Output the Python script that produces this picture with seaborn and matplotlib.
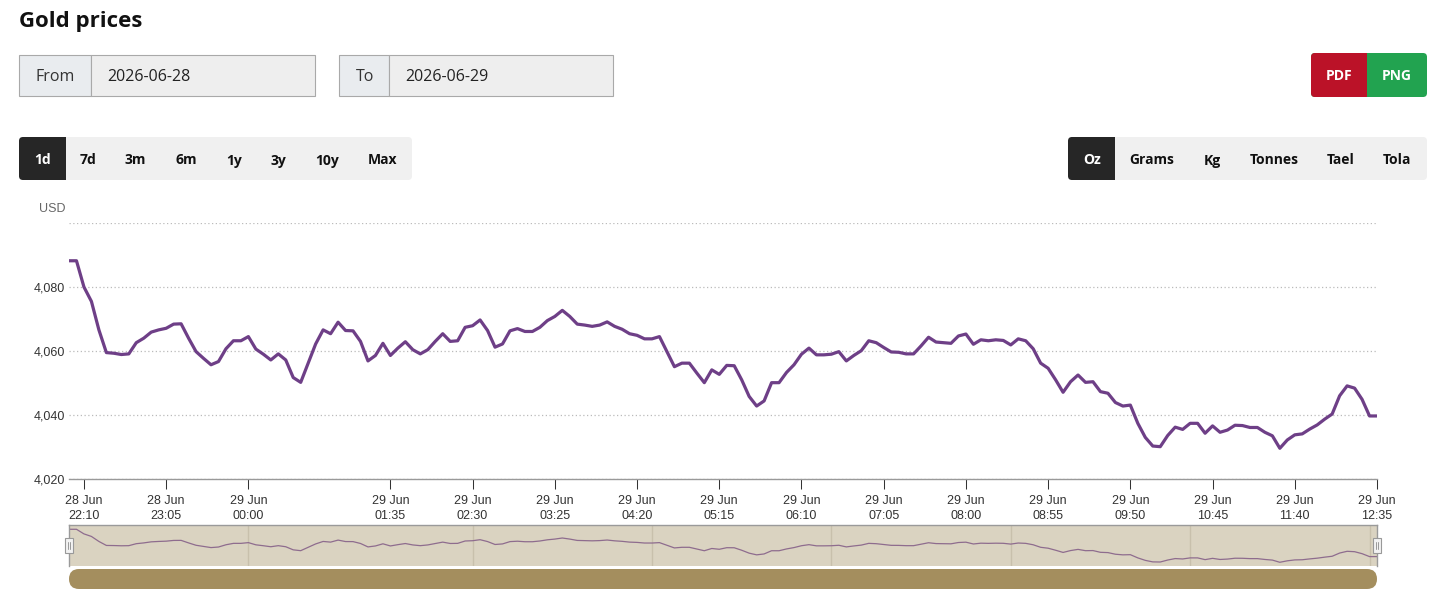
import numpy as np
import pandas as pd
import matplotlib
matplotlib.use("Agg")
import matplotlib.pyplot as plt
import seaborn as sns
from matplotlib.patches import FancyBboxPatch, Rectangle

# ---------------- data ----------------
start_time = "2026-06-28 22:00"
prices = [
    4088.2, 4088.2, 4080.0, 4075.5, 4066.6, 4059.5, 4059.3, 4058.9, 4059.1, 4062.6,
    4064.0, 4065.9, 4066.6, 4067.1, 4068.4, 4068.5, 4064.0, 4059.8, 4057.7, 4055.7,
    4056.7, 4060.7, 4063.2, 4063.2, 4064.5, 4060.6, 4059.0, 4057.2, 4059.1, 4057.2,
    4051.7, 4050.2, 4056.2, 4062.2, 4066.6, 4065.4, 4069.0, 4066.4, 4066.3, 4063.0,
    4056.9, 4058.6, 4062.4, 4058.6, 4060.9, 4062.9, 4060.4, 4059.1, 4060.4, 4063.0,
    4065.4, 4063.0, 4063.2, 4067.4, 4067.9, 4069.7, 4066.4, 4061.2, 4062.2, 4066.3,
    4067.0, 4066.1, 4066.1, 4067.4, 4069.5, 4070.8, 4072.7, 4070.8, 4068.4, 4068.1,
    4067.7, 4068.1, 4069.1, 4067.7, 4066.8, 4065.4, 4064.9, 4063.8, 4063.8, 4064.5,
    4059.8, 4055.1, 4056.2, 4056.2, 4053.1, 4050.1, 4054.1, 4052.7, 4055.5, 4055.4,
    4051.0, 4045.8, 4042.8, 4044.4, 4050.1, 4050.1, 4053.3, 4055.7, 4059.0, 4060.9,
    4058.8, 4058.8, 4059.0, 4059.8, 4056.9, 4058.6, 4060.1, 4063.2, 4062.6, 4061.1,
    4059.7, 4059.6, 4059.1, 4059.1, 4061.6, 4064.3, 4062.8, 4062.6, 4062.4, 4064.7,
    4065.3, 4062.1, 4063.5, 4063.2, 4063.5, 4063.3, 4061.9, 4063.8, 4063.2, 4060.7,
    4056.2, 4054.6, 4051.0, 4047.1, 4050.4, 4052.5, 4050.2, 4050.4, 4047.3, 4046.8,
    4043.9, 4042.8, 4043.1, 4037.4, 4033.0, 4030.3, 4030.1, 4033.6, 4036.2, 4035.5,
    4037.4, 4037.4, 4034.3, 4036.6, 4034.6, 4035.3, 4036.8, 4036.7, 4036.1, 4036.1,
    4034.6, 4033.5, 4029.6, 4032.2, 4033.8, 4034.1, 4035.6, 4036.9, 4038.7, 4040.3,
    4046.0, 4049.1, 4048.4, 4044.9, 4039.7, 4039.7,
]
tick_times = [
    "2026-06-28 22:10", "2026-06-28 23:05", "2026-06-29 00:00", "2026-06-29 01:35",
    "2026-06-29 02:30", "2026-06-29 03:25", "2026-06-29 04:20", "2026-06-29 05:15",
    "2026-06-29 06:10", "2026-06-29 07:05", "2026-06-29 08:00", "2026-06-29 08:55",
    "2026-06-29 09:50", "2026-06-29 10:45", "2026-06-29 11:40", "2026-06-29 12:35",
]
nav_grid_times = [
    "2026-06-29 00:00", "2026-06-29 02:30", "2026-06-29 04:30", "2026-06-29 06:30",
    "2026-06-29 08:30", "2026-06-29 10:30", "2026-06-29 12:30",
]
y_ticks = [4020, 4040, 4060, 4080, 4100]
y_tick_labels = ["4,020", "4,040", "4,060", "4,080", ""]
period_buttons = ["1d", "7d", "3m", "6m", "1y", "3y", "10y", "Max"]
period_centers = [42.5, 88, 135.5, 186, 233.7, 278.7, 327.4, 382.7]
unit_buttons = ["Oz", "Grams", "Kg", "Tonnes", "Tael", "Tola"]
unit_centers = [1091.7, 1151.5, 1212, 1274, 1340.8, 1397.3]
date_from = "2026-06-28"
date_to = "2026-06-29"

times = pd.date_range(start_time, periods=len(prices), freq="5min")
df = pd.DataFrame({"time": times, "price": prices})
ticks = pd.to_datetime(tick_times)
tick_labels = [f"{t.day} {t.strftime('%b')}\n{t.strftime('%H:%M')}" for t in ticks]
nav_grid = pd.to_datetime(nav_grid_times)

# ---------------- style ----------------
sns.set_theme(style="white")
plt.rcParams['font.family'] = ['Liberation Sans', 'DejaVu Sans']
UI_FONT = ['Open Sans', 'DejaVu Sans']
LINE = "#6E3F87"

W, H = 1440, 604
fig = plt.figure(figsize=(W / 100, H / 100), dpi=100)
fig.patch.set_facecolor("white")


def fx(px):
    return px / W


def fy(py):
    return 1 - py / H


# ---------------- main chart ----------------
ax = fig.add_axes([fx(69), fy(479), fx(1377) - fx(69), fy(223) - fy(479)], zorder=2)
ax.set_facecolor("none")
sns.lineplot(data=df, x="time", y="price", ax=ax, color=LINE, linewidth=2.3)
ax.set_xlim(times[0], times[-1])
ax.set_ylim(4020, 4100)
ax.set_yticks(y_ticks)
ax.set_yticklabels(y_tick_labels)
ax.set_xticks(ticks)
ax.set_xticklabels(tick_labels)
ax.set_xlabel("")
ax.set_ylabel("")
ax.grid(axis="y", color="#bbbbbb", linestyle=(0, (1, 2)), linewidth=0.9)
ax.grid(axis="x", visible=False)
for s in ["top", "right", "left"]:
    ax.spines[s].set_visible(False)
ax.spines["bottom"].set_color("#999999")
ax.spines["bottom"].set_linewidth(1.0)
ax.tick_params(axis="y", length=0, pad=3, labelsize=9, labelcolor="#333333")
ax.tick_params(axis="x", direction="out", length=7.2, width=0.75, color="#333333",
               pad=4.3, labelsize=9, labelcolor="#333333", bottom=True)
for lbl in ax.get_xticklabels():
    lbl.set_horizontalalignment("center")
    lbl.set_multialignment("center")
    lbl.set_linespacing(1.33)

# ---------------- navigator ----------------
nav = fig.add_axes([fx(69), fy(566), fx(1377) - fx(69), fy(525) - fy(566)], zorder=2)
nav.set_facecolor("#DAD3C1")
for t in nav_grid:
    nav.axvline(t, color="#C8C0AC", linewidth=1.0, zorder=0)
sns.lineplot(data=df, x="time", y="price", ax=nav, color="#8E6C8E", linewidth=0.9)
nav.set_xlim(times[0], times[-1])
nav.set_ylim(min(prices) - 6.6, max(prices) + 7.6)
nav.set_xticks([])
nav.set_yticks([])
nav.set_xlabel("")
nav.set_ylabel("")
nav.grid(False)
for s in ["top", "left", "right"]:
    nav.spines[s].set_color("#9a9a9a")
    nav.spines[s].set_linewidth(1.0)
nav.spines["bottom"].set_visible(False)

# ---------------- UI canvas ----------------
cv = fig.add_axes([0, 0, 1, 1], zorder=5)
cv.set_facecolor("none")
cv.set_xlim(0, W)
cv.set_ylim(H, 0)
cv.axis("off")


def rbox(x0, y0, x1, y1, color, r=4, ec="none", lw=0, z=1):
    p = FancyBboxPatch((x0 + r, y0 + r), (x1 - x0 - 2 * r), (y1 - y0 - 2 * r),
                       boxstyle=f"round,pad={r}", facecolor=color, edgecolor=ec,
                       linewidth=lw, zorder=z)
    cv.add_patch(p)


def rect(x0, y0, x1, y1, color, ec="none", lw=0, z=1):
    cv.add_patch(Rectangle((x0, y0), x1 - x0, y1 - y0, facecolor=color,
                           edgecolor=ec, linewidth=lw, zorder=z))


# title
cv.text(19, 27.5, "Gold prices", fontsize=16, fontweight="bold", color="#111111",
        family=UI_FONT, va="baseline", ha="left")

# date inputs
def date_input(x0, xd, x1, label, value):
    rect(x0, 54.5, xd, 95.5, "#E9ECEF", ec="#A9A9A9", lw=0.8)
    rect(xd, 54.5, x1, 95.5, "#EEEEEE", ec="#A9A9A9", lw=0.8)
    cv.text(x0 + 16.5, 81.2, label, fontsize=11.5, color="#333333", family=UI_FONT,
            va="baseline", ha="left", zorder=3)
    cv.text(xd + 16, 81.2, value, fontsize=11.5, color="#222222", family=UI_FONT,
            va="baseline", ha="left", zorder=3)


date_input(19, 91.4, 314.5, "From", date_from)
date_input(339, 389.3, 612.5, "To", date_to)

# PDF / PNG
rbox(1311, 53, 1427, 97, "#22A350", r=4)
rbox(1311, 53, 1367, 97, "#BB1228", r=4, z=2)
rect(1360, 53, 1367, 97, "#BB1228", z=2)
cv.text(1339.2, 80, "PDF", fontsize=10, fontweight="bold", color="white",
        family=UI_FONT, va="baseline", ha="center", zorder=3)
cv.text(1396.5, 80, "PNG", fontsize=10, fontweight="bold", color="white",
        family=UI_FONT, va="baseline", ha="center", zorder=3)

# period buttons
rbox(19, 137, 412, 180, "#F0F0F0", r=4)
rbox(19, 137, 66, 180, "#262626", r=4, z=2)
rect(60, 137, 66, 180, "#262626", z=2)
for i, (lab, cx) in enumerate(zip(period_buttons, period_centers)):
    cv.text(cx, 164.5, lab, fontsize=10, fontweight="bold",
            color="white" if i == 0 else "#111111", family=UI_FONT,
            va="baseline", ha="center", zorder=3)

# unit buttons
rbox(1068, 137, 1427, 180, "#F0F0F0", r=4)
rbox(1068, 137, 1115, 180, "#262626", r=4, z=2)
rect(1109, 137, 1115, 180, "#262626", z=2)
for i, (lab, cx) in enumerate(zip(unit_buttons, unit_centers)):
    cv.text(cx, 164.5, lab, fontsize=10, fontweight="bold",
            color="white" if i == 0 else "#111111", family=UI_FONT,
            va="baseline", ha="center", zorder=3)

# USD label
cv.text(65, 209.5, "USD", fontsize=9, color="#666666", va="center", ha="right")

# navigator handles
for hx in (69, 1377):
    rect(hx - 4, 538, hx + 4, 553, "#F2F2F2", ec="#999999", lw=0.8, z=3)
    cv.plot([hx - 1.2, hx - 1.2], [542, 549], color="#999999", lw=0.7, zorder=4)
    cv.plot([hx + 1.2, hx + 1.2], [542, 549], color="#999999", lw=0.7, zorder=4)

# scrollbar
rbox(69, 569, 1377, 589, "#A48E5E", r=10)

fig.savefig("out.png", dpi=100, facecolor="white")
